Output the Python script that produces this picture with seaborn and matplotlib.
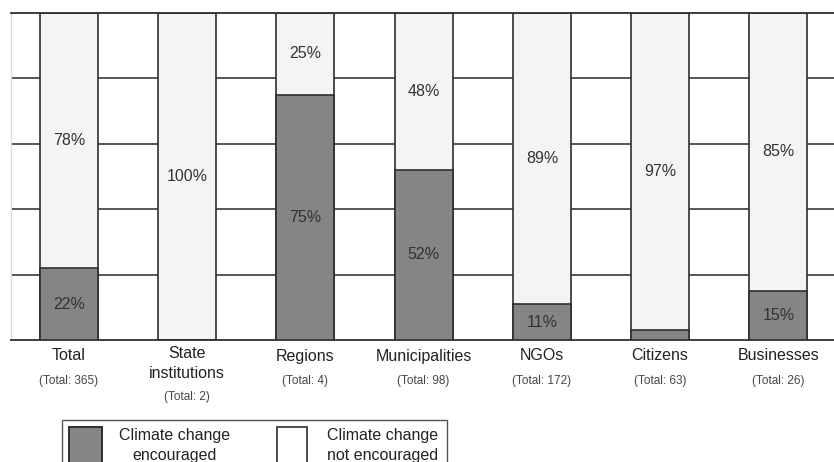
import matplotlib
matplotlib.use("Agg")
import matplotlib.pyplot as plt
import seaborn as sns
import pandas as pd
from matplotlib.patches import Rectangle
import matplotlib.transforms as mtrans

categories = ["Total", "State\ninstitutions", "Regions", "Municipalities", "NGOs", "Citizens", "Businesses"]
totals = ["(Total: 365)", "(Total: 2)", "(Total: 4)", "(Total: 98)", "(Total: 172)", "(Total: 63)", "(Total: 26)"]
encouraged = [22, 0, 75, 52, 11, 3, 15]
not_encouraged = [78, 100, 25, 48, 89, 97, 85]
legend_labels = ["Climate change\nencouraged", "Climate change\nnot encouraged"]

sns.set_theme(style="white")
plt.rcParams['font.family'] = ['Liberation Sans', 'DejaVu Sans']

DARK = "#858585"
LIGHT = "#f4f4f4"
EDGE = "#2e2e2e"
TXT = "#333333"

W, H = 834, 462

df = pd.DataFrame({
    "cat": categories,
    "enc": encouraged,
    "not": not_encouraged,
})
df["full"] = df["enc"] + df["not"]

fig = plt.figure(figsize=(W / 100, H / 100), dpi=100)
ax = fig.add_axes([11 / W, 1 - 340 / H, 1 - 11 / W, (340 - 13) / H])

sns.barplot(data=df, x="cat", y="full", color=LIGHT, width=0.49,
            edgecolor=EDGE, linewidth=1.2, saturation=1, ax=ax, zorder=2)
sns.barplot(data=df, x="cat", y="enc", color=DARK, width=0.49,
            edgecolor=EDGE, linewidth=1.2, saturation=1, ax=ax, zorder=3)

ax.set_ylim(0, 100)
ax.set_xlim(-0.49, 6.47)
ax.set_yticks([20, 40, 60, 80])
ax.set_yticklabels([])
ax.set_xticks(range(len(categories)))
ax.set_xticklabels([])
ax.tick_params(length=0)
ax.set_xlabel("")
ax.set_ylabel("")
ax.grid(axis="y", color="#3a3a3a", linewidth=1.2, zorder=0)
ax.grid(axis="x", visible=False)
ax.set_axisbelow(True)
for s in ["top", "bottom"]:
    ax.spines[s].set_color(EDGE)
    ax.spines[s].set_linewidth(1.3)
ax.spines["left"].set_color("#d8d8d8")
ax.spines["left"].set_linewidth(0.8)
ax.spines["right"].set_visible(False)

# value labels
for i, (e, n) in enumerate(zip(encouraged, not_encouraged)):
    if e >= 10:
        ax.text(i, e / 2, f"{e}%", ha="center", va="center", fontsize=11.5, color=TXT, zorder=5)
    if n > 0:
        ax.text(i, e + n / 2, f"{n}%", ha="center", va="center", fontsize=11.5, color=TXT, zorder=5)

# category labels
trans = mtrans.blended_transform_factory(ax.transData, fig.transFigure)
for i, (c, t) in enumerate(zip(categories, totals)):
    nlines = c.count("\n") + 1
    if nlines == 1:
        ny, ty = 356, 381
    else:
        ny, ty = 363.5, 397
    ax.text(i, 1 - ny / H, c, transform=trans, ha="center", va="center",
            fontsize=11.5, color="#222222", linespacing=1.35, clip_on=False)
    ax.text(i, 1 - ty / H, t, transform=trans, ha="center", va="center",
            fontsize=8.5, color="#444444", clip_on=False)

# legend (drawn in figure pixel coordinates)
def fx(px):
    return px / W

def fy(py):
    return 1 - py / H

fig.patches.append(Rectangle((fx(62), fy(475)), (447 - 62) / W, (475 - 420) / H,
                             transform=fig.transFigure, facecolor="white",
                             edgecolor="#555555", linewidth=1.0, zorder=1))
fig.patches.append(Rectangle((fx(69), fy(469)), 33 / W, 42 / H,
                             transform=fig.transFigure, facecolor=DARK,
                             edgecolor=EDGE, linewidth=1.4, zorder=2))
fig.patches.append(Rectangle((fx(277), fy(469)), 30 / W, 42 / H,
                             transform=fig.transFigure, facecolor="white",
                             edgecolor=EDGE, linewidth=1.2, zorder=2))
for cx, lab in zip([175, 383], legend_labels):
    fig.text(fx(cx), fy(445.5), lab, ha="center", va="center", fontsize=11.5,
             color="#222222", linespacing=1.45, multialignment="center")

fig.savefig("out.png", dpi=100)
